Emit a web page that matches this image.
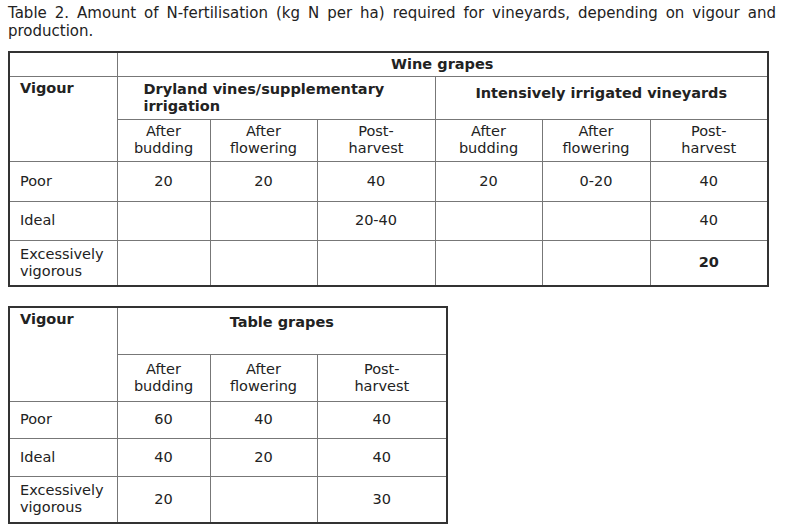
<!DOCTYPE html>
<html><head><meta charset="utf-8">
<script src="https://cdn.jsdelivr.net/npm/chart.js@4/dist/chart.umd.min.js"></script>
<style>
body{margin:0;background:#fff;font-family:"DejaVu Sans",Verdana,sans-serif;font-size:14.5px;color:#222;}
#title{position:absolute;left:8px;top:4px;width:768px;font-size:15px;line-height:18px;text-align:justify;}
table{position:absolute;border-collapse:collapse;table-layout:fixed;border:2px solid #333;}
td{border:1px solid #777;padding:0 10px;vertical-align:middle;text-align:center;line-height:17px;}
td.lab{text-align:left;}
td.top{vertical-align:top;padding-top:3px;}
.b{font-weight:bold;}
</style></head><body>
<div id="title"></div>
<table id="t1" style="left:8px;top:51px;width:759px"></table>
<table id="t2" style="left:8px;top:306px;width:438px"></table>
<script>
const titleText="Table 2. Amount of N-fertilisation (kg N per ha) required for vineyards, depending on vigour and production.";
const stages=["After<br>budding","After<br>flowering","Post-<br>harvest"];
const vigour=["Poor","Ideal","Excessively<br>vigorous"];
const wineDryland=[["20","20","40"],["","","20-40"],["","",""]];
const wineIrrigated=[["20","0-20","40"],["","","40"],["","","20"]];
const tableGrapes=[["60","40","40"],["40","20","40"],["20","","30"]];
document.getElementById('title').textContent=titleText;
const w1=[108,93,107,118,107,108,118], w2=[108,93,107,130];
function cols(w){return '<colgroup>'+w.map(x=>`<col style="width:${x}px">`).join('')+'</colgroup>';}
let h=cols(w1);
h+='<tr style="height:24px"><td></td><td colspan="6" class="b">Wine grapes</td></tr>';
h+='<tr style="height:43px"><td class="lab top b" rowspan="2">Vigour</td><td colspan="3" class="b" style="text-align:left;padding-left:26px">Dryland vines/supplementary irrigation</td><td colspan="3" class="b" style="vertical-align:top;padding-top:8px">Intensively irrigated vineyards</td></tr>';
h+='<tr style="height:42px">'+stages.concat(stages).map(s=>`<td>${s}</td>`).join('')+'</tr>';
const rh1=[40,39,46];
vigour.forEach((v,i)=>{h+=`<tr style="height:${rh1[i]}px"><td class="lab">${v}</td>`+wineDryland[i].concat(wineIrrigated[i]).map((c,j)=>`<td${i==2&&j==5?' class="b"':''}>${c}</td>`).join('')+'</tr>';});
document.getElementById('t1').innerHTML=h;
let g=cols(w2);
g+='<tr style="height:47px"><td class="lab top b" rowspan="2">Vigour</td><td colspan="3" class="b" style="vertical-align:top;padding-top:6px">Table grapes</td></tr>';
g+='<tr style="height:47px">'+stages.map(s=>`<td>${s}</td>`).join('')+'</tr>';
const rh2=[37,38,47];
vigour.forEach((v,i)=>{g+=`<tr style="height:${rh2[i]}px"><td class="lab">${v}</td>`+tableGrapes[i].map(c=>`<td>${c}</td>`).join('')+'</tr>';});
document.getElementById('t2').innerHTML=g;
</script>
</body></html>
